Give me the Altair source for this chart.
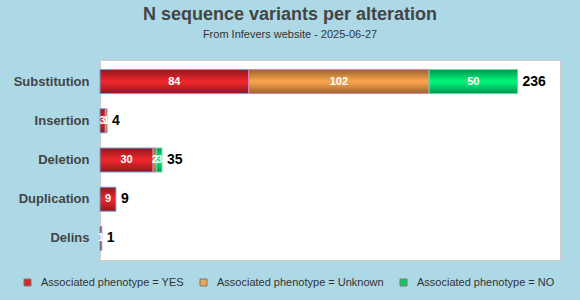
import altair as alt
import pandas as pd

categories = ["Substitution", "Insertion", "Deletion", "Duplication", "Delins"]
phenotypes = ["Associated phenotype = YES", "Associated phenotype = Unknown", "Associated phenotype = NO"]
yes_vals = [84, 3, 30, 9, 1]
unknown_vals = [102, 1, 2, 0, 0]
no_vals = [50, 0, 3, 0, 0]

fill_colors = ["#E8262B", "#F5A04A", "#00F07A"]
legend_colors = ["#DD2424", "#F5A352", "#12C85E"]
stroke_colors = ["#6FA3DC", "#E882A4", "#5FE0A2"]

rows = []
for i, c in enumerate(categories):
    for j, (p, vals) in enumerate(zip(phenotypes, [yes_vals, unknown_vals, no_vals])):
        rows.append({"cat": c, "pheno": p, "order": j, "count": vals[i]})
df = pd.DataFrame(rows)
totals = pd.DataFrame({"cat": categories,
                       "total": [a + b + c for a, b, c in zip(yes_vals, unknown_vals, no_vals)]})

xscale = alt.Scale(domain=[0, 260], nice=False, zero=True)
yenc = alt.Y("cat:N", sort=categories, title=None,
             scale=alt.Scale(paddingInner=0, paddingOuter=0.05),
             axis=alt.Axis(labelFontSize=13, labelFontWeight="bold", labelColor="#444444",
                           ticks=False, domain=False, labelPadding=11, grid=False))

base = alt.Chart(df).transform_filter("datum.count > 0").transform_stack(
    stack="count", groupby=["cat"], as_=["x0", "x1"], sort=[alt.SortField("order", "ascending")]
).transform_calculate(mid="(datum.x0 + datum.x1) / 2")

fill_layer = base.mark_bar(size=24).encode(
    x=alt.X("x0:Q", scale=xscale, axis=None),
    x2="x1:Q",
    y=yenc,
    fill=alt.Fill("pheno:N", scale=alt.Scale(domain=phenotypes, range=fill_colors), legend=None),
)

grad = alt.LinearGradient(
    gradient="linear",
    stops=[alt.GradientStop(color="rgba(0,0,0,0.38)", offset=0),
           alt.GradientStop(color="rgba(0,0,0,0.0)", offset=0.45),
           alt.GradientStop(color="rgba(0,0,0,0.0)", offset=0.55),
           alt.GradientStop(color="rgba(0,0,0,0.38)", offset=1)],
    x1=0, x2=0, y1=0, y2=1)

overlay = base.mark_bar(size=24, fill=grad, strokeWidth=1).encode(
    x=alt.X("x0:Q", scale=xscale, axis=None),
    x2="x1:Q",
    y=yenc,
    stroke=alt.Stroke("pheno:N", scale=alt.Scale(domain=phenotypes, range=stroke_colors), legend=None),
)

legend_layer = alt.Chart(df).transform_calculate(zero="0").mark_bar(size=0, strokeWidth=0).encode(
    x=alt.X("zero:Q", scale=xscale, axis=None),
    x2="zero:Q",
    y=yenc,
    color=alt.Color("pheno:N", scale=alt.Scale(domain=phenotypes, range=legend_colors),
                    legend=alt.Legend(title=None, orient="none", direction="horizontal",
                                      legendX=-78, legendY=217, symbolType="square",
                                      symbolSize=49, symbolStrokeColor="#777777",
                                      symbolStrokeWidth=1, labelFontSize=11,
                                      labelColor="#333333", columnPadding=14,
                                      labelOffset=8, labelLimit=300, symbolOpacity=1)),
)

seg_labels = base.mark_text(color="white", fontSize=11, fontWeight="bold").encode(
    x=alt.X("mid:Q", scale=xscale, axis=None),
    y=yenc,
    text="count:Q",
)

total_labels = alt.Chart(totals).mark_text(align="left", dx=5, fontSize=14, fontWeight="bold",
                                           color="black").encode(
    x=alt.X("total:Q", scale=xscale, axis=None),
    y=yenc,
    text="total:Q",
)

chart = alt.layer(fill_layer, legend_layer, overlay, seg_labels, total_labels).resolve_scale(
    fill="independent", stroke="independent", color="independent"
).properties(
    width=460, height=200,
    background="#ADD8E6",
    autosize=alt.AutoSizeParams(type="none"),
    padding={"left": 100, "top": 60, "right": 20, "bottom": 40},
    title=alt.TitleParams(text="N sequence variants per alteration",
                          subtitle="From Infevers website - 2025-06-27",
                          fontSize=18, fontWeight="bold", color="#444444",
                          subtitleFontSize=11, subtitleColor="#333333",
                          anchor="middle", frame="group", dx=-40, offset=20,
                          subtitlePadding=5),
).configure(font="Liberation Sans").configure_view(stroke="#CCCCCC", fill="white")

chart.save("out.html", embed_options={"renderer": "svg", "actions": False})
